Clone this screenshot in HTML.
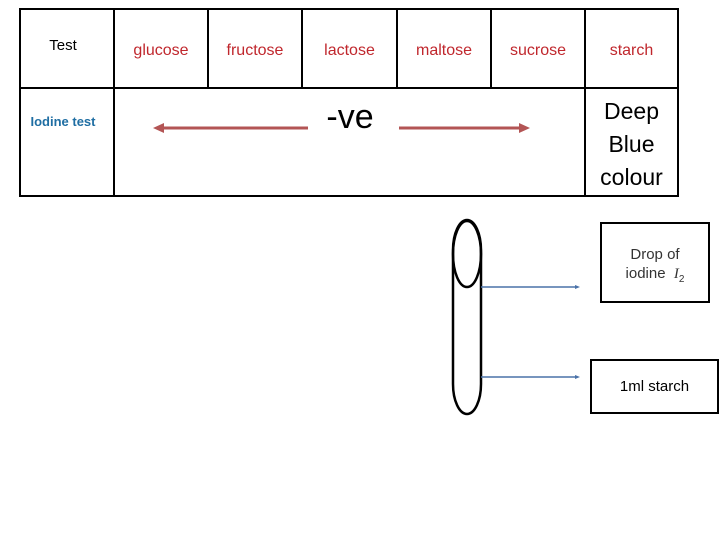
<!DOCTYPE html>
<html><head><style>
body{margin:0;width:720px;height:540px;background:#fff;overflow:hidden;position:relative;font-family:"Liberation Sans",sans-serif}
.t{position:absolute;white-space:nowrap;text-align:center}
.r{color:#c0272d;font-size:16px}
</style></head><body>
<svg width="720" height="540" style="position:absolute;left:0;top:0">
<g stroke="#000" stroke-width="2" fill="none">
<rect x="20" y="9" width="658" height="187"/>
<line x1="20" y1="88" x2="678" y2="88"/>
<line x1="114" y1="9" x2="114" y2="196"/>
<line x1="585" y1="9" x2="585" y2="196"/>
<line x1="208" y1="9" x2="208" y2="88"/>
<line x1="302" y1="9" x2="302" y2="88"/>
<line x1="397" y1="9" x2="397" y2="88"/>
<line x1="491" y1="9" x2="491" y2="88"/>
<rect x="453" y="220" width="28" height="194" rx="14" ry="30" stroke-width="2.5"/>
<ellipse cx="467" cy="254" rx="14" ry="33" stroke-width="2.5"/>
<rect x="601" y="223" width="108" height="79"/>
<rect x="591" y="360" width="127" height="53"/>
</g>
<g stroke="#b35555" stroke-width="3" fill="#b35555">
<line x1="162" y1="128" x2="308" y2="128"/>
<polygon points="153,128 164,123 164,133" stroke="none"/>
<line x1="399" y1="128" x2="520" y2="128"/>
<polygon points="530,128 519,123 519,133" stroke="none"/>
</g>
<g stroke="#4a72a8" stroke-width="1.5" fill="#4a72a8">
<line x1="481" y1="287" x2="577" y2="287"/>
<polygon points="580,287 575,285 575,289" stroke="none"/>
<line x1="481" y1="377" x2="577" y2="377"/>
<polygon points="580,377 575,375 575,379" stroke="none"/>
</g>
</svg>
<div class="t" style="left:20px;width:86px;top:37px;font-size:15px">Test</div>
<div class="t r" style="left:114px;width:94px;top:42px">glucose</div>
<div class="t r" style="left:208px;width:94px;top:42px">fructose</div>
<div class="t r" style="left:302px;width:95px;top:42px">lactose</div>
<div class="t r" style="left:397px;width:94px;top:42px">maltose</div>
<div class="t r" style="left:491px;width:94px;top:42px">sucrose</div>
<div class="t r" style="left:585px;width:93px;top:42px">starch</div>
<div class="t" style="left:20px;width:86px;top:114px;font-size:13px;color:#1f6ea3;font-weight:bold">Iodine test</div>
<div class="t" style="left:310px;width:80px;top:98px;font-size:34px">-ve</div>
<div class="t" style="left:585px;width:93px;top:95px;font-size:23px;line-height:33px">Deep<br>Blue<br>colour</div>
<div class="t" style="left:601px;width:108px;top:245px;font-size:15px;line-height:19px;color:#333">Drop of<br>iodine &nbsp;<i style="font-family:'Liberation Serif',serif">I</i><sub style="font-size:10px">2</sub></div>
<div class="t" style="left:591px;width:127px;top:378px;font-size:15px">1ml starch</div>
</body></html>
